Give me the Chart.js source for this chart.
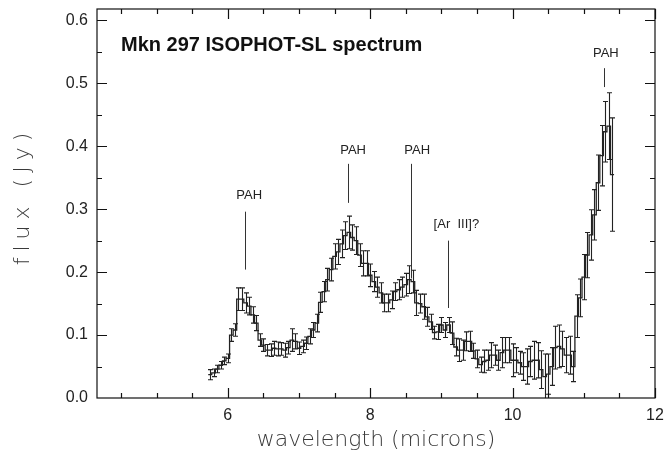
<!DOCTYPE html>
<html>
<head>
<meta charset="utf-8">
<script src="https://cdn.jsdelivr.net/npm/chart.js@4.4.1/dist/chart.umd.min.js"></script>
<style>
  html, body { margin: 0; padding: 0; background: #fff; }
  #wrap { width: 669px; height: 462px; }
</style>
</head>
<body>
<div id="wrap"><canvas id="spec"></canvas></div>
<script>
// bin centres (microns)
const wavelength = [
  5.75, 5.80, 5.85, 5.90, 5.95, 6.00, 6.05, 6.10, 6.15, 6.20,
  6.25, 6.30, 6.35, 6.40, 6.45, 6.50, 6.55, 6.60, 6.65, 6.70,
  6.75, 6.80, 6.85, 6.90, 6.95, 7.00, 7.05, 7.10, 7.15, 7.20,
  7.25, 7.30, 7.35, 7.40, 7.45, 7.50, 7.55, 7.60, 7.65, 7.70,
  7.75, 7.80, 7.85, 7.90, 7.95, 8.00, 8.05, 8.10, 8.15, 8.20,
  8.25, 8.30, 8.35, 8.40, 8.45, 8.50, 8.55, 8.60, 8.65, 8.70,
  8.75, 8.80, 8.85, 8.90, 8.95, 9.00, 9.05, 9.10, 9.15, 9.20,
  9.25, 9.30, 9.35, 9.40, 9.45, 9.50, 9.55, 9.60, 9.65, 9.70,
  9.75, 9.80, 9.85, 9.90, 9.95, 10.00, 10.05, 10.10, 10.15, 10.20,
  10.25, 10.30, 10.35, 10.40, 10.45, 10.50, 10.55, 10.60, 10.65, 10.70,
  10.75, 10.80, 10.85, 10.90, 10.95, 11.00, 11.05, 11.10, 11.15, 11.20,
  11.25, 11.30, 11.35, 11.40
];
// flux (Jy)
const flux = [
  0.037, 0.040, 0.046, 0.052, 0.059, 0.063, 0.100, 0.108, 0.157, 0.157,
  0.151, 0.146, 0.132, 0.119, 0.092, 0.084, 0.076, 0.076, 0.079, 0.078,
  0.078, 0.076, 0.080, 0.092, 0.090, 0.079, 0.082, 0.087, 0.098, 0.108,
  0.119, 0.152, 0.169, 0.188, 0.204, 0.225, 0.232, 0.245, 0.258, 0.263,
  0.255, 0.250, 0.227, 0.214, 0.214, 0.195, 0.185, 0.176, 0.167, 0.151,
  0.151, 0.156, 0.169, 0.172, 0.176, 0.180, 0.188, 0.185, 0.151, 0.150,
  0.145, 0.129, 0.121, 0.104, 0.105, 0.116, 0.108, 0.116, 0.103, 0.081,
  0.076, 0.076, 0.090, 0.090, 0.075, 0.062, 0.053, 0.058, 0.060, 0.068,
  0.068, 0.060, 0.072, 0.076, 0.076, 0.060, 0.060, 0.056, 0.050, 0.050,
  0.058, 0.060, 0.060, 0.045, 0.034, 0.038, 0.050, 0.080, 0.082, 0.078,
  0.068, 0.068, 0.050, 0.130, 0.159, 0.192, 0.227, 0.259, 0.291, 0.342,
  0.385, 0.423, 0.432, 0.355
];
// 1-sigma errors (Jy)
const fluxErr = [
  0.008, 0.006, 0.006, 0.006, 0.006, 0.007, 0.010, 0.010, 0.018, 0.018,
  0.016, 0.014, 0.013, 0.012, 0.010, 0.010, 0.009, 0.010, 0.011, 0.011,
  0.010, 0.011, 0.010, 0.018, 0.012, 0.010, 0.010, 0.010, 0.012, 0.012,
  0.014, 0.016, 0.016, 0.018, 0.018, 0.020, 0.020, 0.022, 0.022, 0.026,
  0.020, 0.022, 0.018, 0.020, 0.020, 0.018, 0.016, 0.016, 0.016, 0.014,
  0.014, 0.014, 0.014, 0.016, 0.016, 0.018, 0.022, 0.018, 0.020, 0.015,
  0.020, 0.015, 0.012, 0.010, 0.012, 0.012, 0.012, 0.012, 0.018, 0.014,
  0.018, 0.016, 0.015, 0.016, 0.012, 0.014, 0.012, 0.018, 0.016, 0.020,
  0.016, 0.016, 0.024, 0.020, 0.020, 0.026, 0.020, 0.018, 0.022, 0.028,
  0.024, 0.030, 0.028, 0.030, 0.036, 0.032, 0.030, 0.034, 0.034, 0.028,
  0.028, 0.030, 0.024, 0.034, 0.030, 0.036, 0.036, 0.040, 0.040, 0.044,
  0.048, 0.048, 0.053, 0.090
];
const binWidth = 0.05;

const xTicks = [6, 8, 10, 12];
const yTicks = [0.0, 0.1, 0.2, 0.3, 0.4, 0.5, 0.6];

// feature labels: text, line x, line top/bottom, text x/y (data units)
const featText = ['PAH', 'PAH', 'PAH', '[Ar  III]?', 'PAH'];
const featWave = [6.24, 7.69, 8.58, 9.09, 11.28];
const featTop = [0.296, 0.372, 0.372, 0.250, 0.524];
const featBottom = [0.204, 0.310, 0.190, 0.143, 0.494];
const featTextX = [6.30, 7.76, 8.66, 9.21, 11.31];
const featTextY = [0.322, 0.394, 0.394, 0.275, 0.547];

// histogram edges for the stepped line
const steps = wavelength.map((w, i) => ({x: w - binWidth / 2, y: flux[i]}));
steps.push({x: wavelength[wavelength.length - 1] + binWidth / 2, y: flux[flux.length - 1]});

const decorations = {
  id: 'decorations',
  afterDatasetsDraw(chart) {
    const {ctx, chartArea: a, scales: {x, y}} = chart;
    ctx.save();
    ctx.beginPath();
    ctx.rect(a.left, a.top, a.right - a.left, a.bottom - a.top);
    ctx.clip();
    // error bars
    ctx.strokeStyle = '#222';
    ctx.lineWidth = 1.1;
    wavelength.forEach((w, i) => {
      const px = Math.round(x.getPixelForValue(w)) + 0.5;
      const top = y.getPixelForValue(flux[i] + fluxErr[i]);
      const bot = y.getPixelForValue(flux[i] - fluxErr[i]);
      ctx.beginPath();
      ctx.moveTo(px, top); ctx.lineTo(px, bot);
      ctx.moveTo(px - 2.5, top); ctx.lineTo(px + 2.5, top);
      ctx.moveTo(px - 2.5, bot); ctx.lineTo(px + 2.5, bot);
      ctx.stroke();
    });
    ctx.restore();

    // feature markers
    ctx.save();
    ctx.strokeStyle = '#333';
    ctx.lineWidth = 1;
    ctx.fillStyle = '#222';
    ctx.font = '13px "Liberation Sans", Arial, sans-serif';
    ctx.textAlign = 'center';
    ctx.textBaseline = 'middle';
    featText.forEach((t, i) => {
      const px = Math.round(x.getPixelForValue(featWave[i])) + 0.5;
      ctx.beginPath();
      ctx.moveTo(px, y.getPixelForValue(featTop[i]));
      ctx.lineTo(px, y.getPixelForValue(featBottom[i]));
      ctx.stroke();
      ctx.fillText(t, x.getPixelForValue(featTextX[i]), y.getPixelForValue(featTextY[i]));
    });
    ctx.restore();
  },
  afterDraw(chart) {
    const {ctx, chartArea: a, scales: {x, y}} = chart;
    ctx.save();
    ctx.strokeStyle = '#111';
    ctx.lineWidth = 1.2;
    ctx.strokeRect(a.left, a.top, a.right - a.left, a.bottom - a.top);
    // inward ticks on all four sides
    ctx.beginPath();
    for (let v = 4.5; v <= 12.001; v += 0.5) {
      const px = Math.round(x.getPixelForValue(v)) + 0.5;
      const len = Math.abs(v % 2) < 0.01 ? 10 : 5;
      ctx.moveTo(px, a.bottom); ctx.lineTo(px, a.bottom - len);
      ctx.moveTo(px, a.top); ctx.lineTo(px, a.top + len);
    }
    for (let k = 1; k <= 12; k++) {
      const py = Math.round(y.getPixelForValue(k * 0.05)) + 0.5;
      const len = k % 2 === 0 ? 10 : 5;
      ctx.moveTo(a.left, py); ctx.lineTo(a.left + len, py);
      ctx.moveTo(a.right, py); ctx.lineTo(a.right - len, py);
    }
    ctx.stroke();

    // title inside the plot
    ctx.fillStyle = '#111';
    ctx.font = 'bold 20px "Liberation Sans", Arial, sans-serif';
    ctx.textAlign = 'left';
    ctx.textBaseline = 'alphabetic';
    ctx.fillText('Mkn 297 ISOPHOT-SL spectrum', 121, 51);

    // axis titles
    ctx.fillStyle = '#3a3a3a';
    ctx.font = '200 22px "DejaVu Sans", sans-serif';
    ctx.textAlign = 'center';
    ctx.textBaseline = 'middle';
    ctx.fillText('wavelength (microns)', (a.left + a.right) / 2, 440);
    ctx.translate(23, 199);
    ctx.rotate(-Math.PI / 2);
    ctx.letterSpacing = '6px';
    ctx.fillText('flux (Jy)', 3, 0);
    ctx.restore();
  }
};

new Chart(document.getElementById('spec'), {
  type: 'line',
  data: {
    datasets: [{
      data: steps,
      stepped: true,
      borderColor: '#222',
      borderWidth: 1.3,
      pointRadius: 0,
      fill: false
    }]
  },
  options: {
    responsive: true,
    maintainAspectRatio: false,
    animation: false,
    layout: { padding: { left: 0, top: 9, right: 14, bottom: 0 } },
    plugins: { legend: { display: false }, tooltip: { enabled: false } },
    scales: {
      x: {
        type: 'linear',
        min: 4.163,
        max: 12,
        afterFit: s => { s.height = 64; s.paddingRight = 0; s.paddingLeft = 0; },
        afterBuildTicks: s => { s.ticks = xTicks.map(v => ({value: v})); },
        grid: { display: false, drawTicks: false },
        border: { display: false },
        ticks: {
          padding: 8,
          color: '#222',
          font: { family: '"Liberation Sans", Arial, sans-serif', size: 16 },
          callback: v => String(v)
        }
      },
      y: {
        min: 0,
        max: 0.618,
        afterFit: s => { s.width = 97; s.paddingTop = 0; s.paddingBottom = 0; },
        afterBuildTicks: s => { s.ticks = yTicks.map(v => ({value: v})); },
        grid: { display: false, drawTicks: false },
        border: { display: false },
        ticks: {
          padding: 9,
          color: '#222',
          font: { family: '"Liberation Sans", Arial, sans-serif', size: 16 },
          callback: v => v.toFixed(1)
        }
      }
    }
  },
  plugins: [decorations]
});
</script>
</body>
</html>
